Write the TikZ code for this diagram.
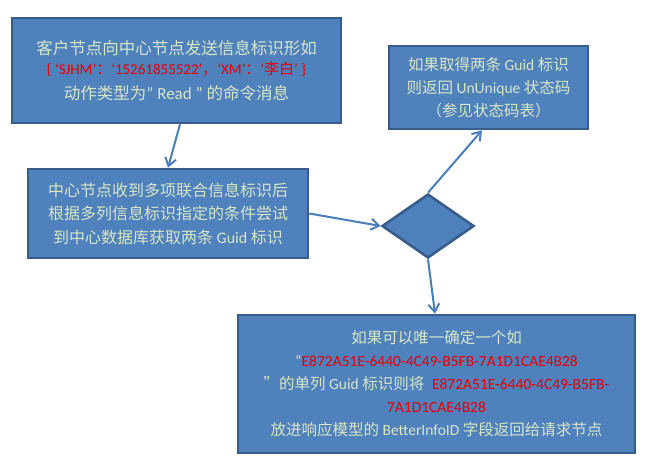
\documentclass[tikz,border=0pt]{standalone}
\usepackage{fontspec}
\setmainfont{Noto Sans CJK SC}
\newfontfamily\lat{Carlito}
\usetikzlibrary{arrows.meta,shapes.geometric}
\definecolor{boxfill}{HTML}{4F81BD}
\definecolor{boxline}{HTML}{385D8A}
\definecolor{arrowc}{HTML}{4A7EBB}
\definecolor{txt}{HTML}{D8E6C4}
\definecolor{redt}{HTML}{E80000}
\tikzset{
  box/.style={draw=boxline,fill=boxfill,line width=2.6pt,inner sep=0pt,
    text=txt,align=center,font=\fontsize{15.5}{23}\selectfont},
  dia/.style={draw=boxline,fill=boxfill,line width=2.6pt,diamond,inner sep=0pt,aspect=1.45},
  conn/.style={draw=arrowc,line width=2pt,-{Straight Barb[length=8pt,width=11pt,line width=2pt]}}
}
\begin{document}
\begin{tikzpicture}[x=1pt,y=-1pt]
\useasboundingbox[fill=white] (0,0) rectangle (663,471);
\node[box,minimum width=329pt,minimum height=105pt,font=\fontsize{16.5}{23}\selectfont] (b1) at (176.5,70.5)
  {客户节点向中心节点发送信息标识形如\\[-3pt]
   {\color{redt}\fontsize{15}{16}\selectfont\lat\{ ‘SJHM’{\rmfamily ：}‘15261855522’{\rmfamily ，}‘XM’{\rmfamily ：}‘{\rmfamily 李白}’ \}}\\[2pt]
   动作类型为{\lat\fontsize{17}{20}\selectfont ” Read ” }的命令消息};
\node[box,minimum width=199pt,minimum height=83pt] (b2) at (488.5,87.5)
  {如果取得两条 {\lat Guid} 标识\\
   则返回 {\lat UnUnique} 状态码\\
   （参见状态码表）};
\node[box,minimum width=280pt,minimum height=89pt,font=\fontsize{16}{23.5}\selectfont] (b3) at (168,213.5)
  {中心节点收到多项联合信息标识后\\
   根据多列信息标识指定的条件尝试\\
   到中心数据库获取两条 {\lat Guid} 标识};
\node[dia,minimum width=92pt,minimum height=64pt] (d) at (428,226) {};
\node[box,minimum width=397pt,minimum height=138pt] (b4) at (436.5,384)
  {如果可以唯一确定一个如\\
   {\lat “{\color{redt}E872A51E-6440-4C49-B5FB-7A1D1CAE4B28}}\\
   ”的单列 {\lat Guid} 标识则将\enspace{\color{redt}\lat E872A51E-6440-4C49-B5FB-}\\
   {\color{redt}\lat 7A1D1CAE4B28}\\
   放进响应模型的 {\lat BetterInfoID} 字段返回给请求节点};
\draw[conn] ([xshift=3.5pt]b1.south) -- (b3.north);
\draw[conn] (b3.east) -- (d.west);
\draw[conn] (d.north) -- ([xshift=-6.5pt]b2.south);
\draw[conn] (d.south) -- ([xshift=-1.5pt]b4.north);
\end{tikzpicture}
\end{document}
